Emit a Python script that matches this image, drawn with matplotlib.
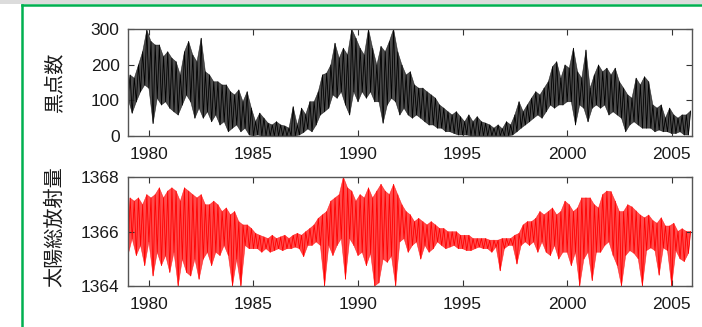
import numpy as np
import matplotlib
matplotlib.use("Agg")
import matplotlib.pyplot as plt
from matplotlib.patches import Rectangle
from matplotlib.lines import Line2D

plt.rcParams['font.family'] = ['Liberation Sans', 'DejaVu Sans']

# Time base: one bin every 0.2 yr starting 1979.0
start_year = 1979.0
bin_width = 0.2

# Daily sunspot number: upper / lower extent within each 0.2-yr bin
sunspot_high = [
    171, 162, 199, 236, 297, 265, 255, 255, 222, 236, 218, 208, 171, 236, 265, 227, 208, 274, 180, 171, 152, 152, 143, 143, 124,   # 1979-1983.8
    115, 129, 96, 124, 78, 40, 64, 50, 36, 31, 40, 31, 28, 22, 82, 30, 78, 60, 96, 96, 124, 171, 176, 199, 260,                  # 1984-1988.8
    218, 246, 227, 300, 274, 246, 227, 300, 246, 199, 251, 236, 265, 300, 236, 199, 171, 180, 143, 134, 134, 124, 115, 106, 87,  # 1989-1993.8
    78, 68, 59, 68, 54, 40, 59, 40, 54, 40, 36, 31, 22, 31, 20, 40, 31, 59, 96, 68, 87, 106, 124, 115, 134,                     # 1994-1998.8
    152, 194, 208, 162, 199, 190, 246, 180, 162, 241, 134, 171, 199, 180, 190, 171, 190, 152, 134, 115, 106, 162, 143, 166, 152, # 1999-2003.8
    87, 78, 87, 50, 78, 59, 50, 59, 59, 70,                                                                                      # 2004-2005.8
]
sunspot_low = [
    106, 64, 96, 124, 143, 134, 35, 106, 87, 96, 78, 68, 59, 87, 115, 96, 50, 78, 50, 68, 40, 59, 31, 40, 12,
    22, 31, 12, 22, 3, 0, 3, 0, 0, 0, 0, 0, 0, 0, 0, 0, 3, 10, 20, 12, 31, 59, 68, 78, 115,
    106, 124, 87, 59, 124, 96, 124, 106, 124, 96, 96, 36, 87, 106, 96, 59, 78, 59, 50, 59, 50, 40, 31, 31, 22,
    22, 12, 12, 7, 3, 3, 3, 0, 0, 0, 0, 0, 0, 0, 0, 0, 0, 3, 12, 22, 31, 40, 50, 59, 50,
    68, 87, 78, 87, 87, 96, 96, 31, 87, 78, 40, 78, 87, 78, 87, 59, 68, 59, 50, 12, 31, 40, 31, 22, 22,
    22, 12, 17, 12, 12, 7, 7, 12, 3, 3,
]

# Total solar irradiance (W/m^2): upper / lower extent within each 0.2-yr bin
tsi_high = [
    1367.23, 1367.11, 1367.23, 1366.98, 1367.35, 1367.23, 1367.35, 1367.60, 1367.23, 1367.48,
    1367.60, 1367.48, 1367.11, 1367.60, 1367.48, 1367.35, 1367.23, 1367.35, 1366.98, 1366.98,
    1367.11, 1366.98, 1366.73, 1366.86, 1366.61,
    1366.73, 1366.36, 1366.24, 1366.24, 1366.11, 1365.93, 1365.86, 1365.80, 1365.74, 1365.86,
    1365.74, 1365.80, 1365.86, 1365.74, 1365.86, 1365.93, 1365.86, 1365.99, 1366.11, 1366.24,
    1366.48, 1366.61, 1366.73, 1367.11, 1367.23,
    1367.35, 1368.00, 1367.60, 1367.48, 1367.11, 1367.35, 1367.23, 1367.60, 1367.23, 1367.48,
    1367.73, 1367.48, 1367.35, 1367.73, 1367.35, 1366.98, 1366.73, 1366.61, 1366.36, 1366.48,
    1366.36, 1366.24, 1366.36, 1366.24, 1366.11,
    1366.11, 1365.99, 1365.99, 1365.99, 1365.86, 1365.86, 1365.86, 1365.74, 1365.74, 1365.74,
    1365.74, 1365.68, 1365.68, 1365.68, 1365.74, 1365.74, 1365.74, 1365.86, 1365.93, 1366.24,
    1366.36, 1366.36, 1366.48, 1366.73, 1366.61,
    1366.73, 1366.86, 1366.61, 1366.73, 1367.11, 1366.98, 1366.73, 1366.86, 1367.23, 1367.23,
    1367.23, 1366.98, 1366.86, 1367.35, 1367.48, 1367.46, 1367.11, 1366.73, 1366.73, 1366.98,
    1366.90, 1366.75, 1366.60, 1366.50, 1366.60,
    1366.40, 1366.30, 1366.50, 1366.20, 1366.20, 1366.30, 1366.00, 1366.10, 1366.00, 1366.00,
]
tsi_low = [
    1365.12, 1365.74, 1365.12, 1365.49, 1364.75, 1365.62, 1364.37, 1365.24, 1364.75, 1365.12,
    1364.50, 1365.24, 1364.00, 1364.99, 1364.50, 1364.37, 1364.99, 1364.25, 1364.99, 1365.24,
    1364.75, 1365.24, 1365.12, 1365.49, 1365.12,
    1364.00, 1364.99, 1364.00, 1365.49, 1365.37, 1365.37, 1365.37, 1365.24, 1365.37, 1365.24,
    1365.30, 1365.37, 1365.30, 1365.37, 1365.37, 1365.43, 1365.37, 1365.08, 1365.49, 1365.49,
    1365.62, 1365.49, 1364.00, 1365.49, 1365.12,
    1365.49, 1365.74, 1364.25, 1365.74, 1365.49, 1365.12, 1365.24, 1364.75, 1365.20, 1364.00,
    1364.12, 1364.99, 1364.87, 1365.10, 1364.00, 1365.62, 1365.74, 1365.24, 1365.49, 1365.62,
    1364.99, 1365.49, 1365.24, 1365.37, 1365.62,
    1365.49, 1365.37, 1365.43, 1365.49, 1365.37, 1365.37, 1365.30, 1365.30, 1365.37, 1365.43,
    1365.37, 1365.37, 1365.24, 1365.43, 1364.56, 1365.37, 1365.49, 1365.49, 1364.81, 1365.49,
    1365.62, 1365.49, 1365.62, 1365.24, 1365.62,
    1365.24, 1365.12, 1365.49, 1364.99, 1365.24, 1365.24, 1364.75, 1365.24, 1364.00, 1364.99,
    1365.24, 1364.20, 1365.24, 1365.24, 1365.49, 1365.62, 1365.12, 1364.75, 1364.00, 1365.12,
    1365.30, 1365.20, 1365.00, 1364.00, 1365.30,
    1365.40, 1365.30, 1364.40, 1365.40, 1365.30, 1364.00, 1365.30, 1365.00, 1364.90, 1365.20,
]

year_ticks = [1980, 1985, 1990, 1995, 2000, 2005]
sunspot_ticks = [0, 100, 200, 300]
tsi_ticks = [1364, 1366, 1368]
sunspot_label = "黒点数"
tsi_label = "太陽総放射量"


def draw_trace(ax, high, low, color):
    """Daily-range trace: shading of each bin's range plus a line
    swinging between the bin extremes."""
    high = np.asarray(high, float)
    low = np.asarray(low, float)
    t = start_year + bin_width * np.arange(len(high))
    th = t + bin_width / 2
    px = np.concatenate([th, t[::-1]])
    py = np.concatenate([high, low[::-1]])
    ax.fill(px, py, facecolor=color, edgecolor=color, lw=0.4, alpha=0.7)
    x = np.empty(2 * len(t))
    y = np.empty(2 * len(t))
    x[0::2], x[1::2] = t, th
    y[0::2], y[1::2] = low, high
    ax.plot(x, y, color=color, lw=0.6)


W, H = 702, 327
fig = plt.figure(figsize=(W / 100, H / 100), dpi=100)

# page frame
fig.patches.append(Rectangle((0, 1 - 4 / H), 1, 4 / H, transform=fig.transFigure,
                             facecolor='#dcdcdc', edgecolor='none', zorder=0))
green = '#00b050'
fig.lines.append(Line2D([22.5 / W, 1], [1 - 5 / H, 1 - 5 / H], transform=fig.transFigure,
                        color=green, lw=1.8))
fig.lines.append(Line2D([22.5 / W, 22.5 / W], [0, 1 - 5 / H], transform=fig.transFigure,
                        color=green, lw=1.8))

ax1 = fig.add_axes([128 / W, 1 - 136 / H, 564 / W, 107 / H])
ax2 = fig.add_axes([128 / W, 1 - 286 / H, 564 / W, 109 / H])

draw_trace(ax1, sunspot_high, sunspot_low, 'black')
draw_trace(ax2, tsi_high, tsi_low, '#ff0000')

ax1.set_ylim(0, 300)
ax1.set_yticks(sunspot_ticks)
ax2.set_ylim(1364, 1368)
ax2.set_yticks(tsi_ticks)

for ax in (ax1, ax2):
    ax.set_xlim(1979.0, 2005.97)
    ax.set_xticks(year_ticks)
    ax.tick_params(direction='in', top=True, right=True, length=4, width=0.8,
                   color='#333333', labelsize=12.5, labelcolor='#1a1a1a')
    ax.tick_params(axis='x', pad=8)
    ax.tick_params(axis='y', pad=6)
    for s in ax.spines.values():
        s.set_color('#555555')
        s.set_linewidth(1.0)

cjk = ['Noto Sans CJK JP', 'DejaVu Sans']
fig.text(55 / W, 1 - 82 / H, sunspot_label, rotation=90, ha='center', va='center',
         fontsize=14.5, family=cjk, color='#1a1a1a')
fig.text(55 / W, 1 - 227 / H, tsi_label, rotation=90, ha='center', va='center',
         fontsize=14.5, family=cjk, color='#1a1a1a')

fig.savefig('out.png', dpi=100)
